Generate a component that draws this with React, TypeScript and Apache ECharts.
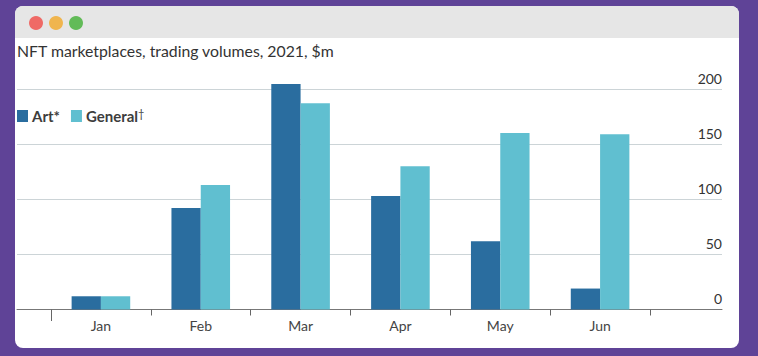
import React, { useEffect, useRef } from "react";
import * as echarts from "echarts";

const categories = ["Jan", "Feb", "Mar", "Apr", "May", "Jun"];
const art = [12, 92, 204.5, 103, 62, 19];
const general = [12, 113, 187, 130, 160, 159];
const yTicks = { min: 0, max: 200, interval: 50 };
const barScale = { min: 0, max: 220, interval: 20 };
const titleText = "NFT marketplaces, trading volumes, 2021, $m";
const FONT = "Lato";

export default function App() {
  const ref = useRef<HTMLDivElement>(null);
  useEffect(() => {
    const chart = echarts.init(ref.current!, null, { renderer: "svg" });
    const dots = [
      { x: 36, color: "#ef6a66" },
      { x: 56, color: "#f0b54e" },
      { x: 76, color: "#62bb58" },
    ];
    chart.setOption({
      animation: false,
      backgroundColor: "#5f4397",
      textStyle: { fontFamily: FONT },
      title: {
        text: titleText,
        left: 17,
        top: 42,
        padding: 0,
        textStyle: { fontFamily: FONT, fontSize: 15.8, fontWeight: "normal", color: "#333333" },
      },
      legend: {
        left: 17,
        top: 108,
        padding: 0,
        icon: "rect",
        itemWidth: 11,
        itemHeight: 12,
        itemGap: 11,
        selectedMode: false,
        data: ["Art*", "General†"],
        formatter: (name: string) =>
          name.endsWith("†") ? `{b|${name.slice(0, -1)}}{s|†}` : `{b|${name}}`,
        textStyle: {
          fontFamily: FONT,
          color: "#3d3d3d",
          padding: [0, 0, 0, -1],
          rich: {
            b: { fontFamily: FONT, fontSize: 15, fontWeight: "bold", color: "#3d3d3d", lineHeight: 16 },
            s: { fontFamily: FONT, fontSize: 11, fontWeight: "normal", color: "#3d3d3d", lineHeight: 16, verticalAlign: "top" },
          },
        },
      },
      graphic: [
        { type: "rect", z: -10, shape: { x: 15, y: 6, width: 724, height: 342, r: 8 }, style: { fill: "#ffffff" } },
        { type: "rect", z: -9, shape: { x: 15, y: 6, width: 724, height: 32, r: [8, 8, 0, 0] }, style: { fill: "#e6e6e6" } },
        ...dots.map((d) => ({
          type: "circle",
          z: -8,
          shape: { cx: d.x, cy: 23, r: 7 },
          style: { fill: d.color },
        })),
        { type: "line", z: 5, shape: { x1: 51.5, y1: 310, x2: 51.5, y2: 321 }, style: { stroke: "#666666", lineWidth: 1 } },
      ],
      grid: [
        { left: 17, width: 705, top: 89, height: 220.5 },
        { left: 51, width: 599, top: 66.95, height: 242.55 },
      ],
      xAxis: [
        {
          gridIndex: 0,
          type: "category",
          data: [],
          axisLine: { show: true, lineStyle: { color: "#777777", width: 1 } },
          axisTick: { show: false },
          axisLabel: { show: false },
        },
        {
          gridIndex: 1,
          type: "category",
          data: categories,
          axisLine: { show: false },
          axisTick: { show: true, length: 6, lineStyle: { color: "#666666", width: 1 } },
          axisLabel: { color: "#444444", fontFamily: FONT, fontSize: 14, margin: 9 },
        },
      ],
      yAxis: [
        {
          gridIndex: 0,
          type: "value",
          position: "right",
          ...yTicks,
          axisLine: { show: false },
          axisTick: { show: false },
          axisLabel: {
            inside: true,
            margin: 0,
            color: "#333333",
            fontFamily: FONT,
            fontSize: 14,
            verticalAlign: "bottom",
            padding: [0, 0, 4, 0],
          },
          splitLine: { show: true, showMinLine: false, lineStyle: { color: "#ccd4d7", width: 1 } },
        },
        {
          gridIndex: 1,
          type: "value",
          ...barScale,
          axisLine: { show: false },
          axisTick: { show: false },
          axisLabel: { show: false },
          splitLine: { show: false },
        },
      ],
      series: [
        {
          name: "Art*",
          type: "bar",
          xAxisIndex: 1,
          yAxisIndex: 1,
          data: art,
          barWidth: 29.3,
          barGap: 0,
          itemStyle: { color: "#2a6d9f" },
        },
        {
          name: "General†",
          type: "bar",
          xAxisIndex: 1,
          yAxisIndex: 1,
          data: general,
          barWidth: 29.3,
          barGap: 0,
          itemStyle: { color: "#60bfd0" },
        },
      ],
    });
    return () => chart.dispose();
  }, []);
  return <div ref={ref} style={{ position: "fixed", left: 0, top: 0, width: 758, height: 356 }} />;
}
